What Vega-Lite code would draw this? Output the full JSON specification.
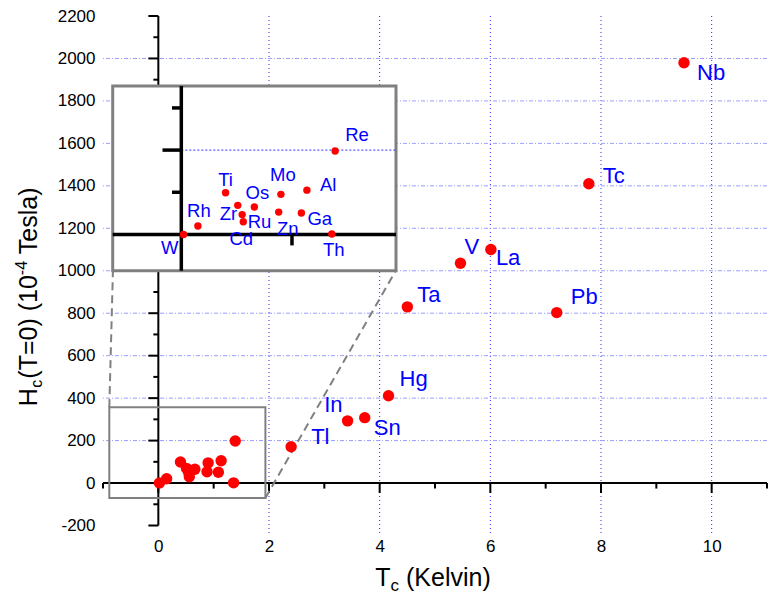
{
 "$schema": "https://vega.github.io/schema/vega-lite/v6.json",
 "width": 664, "height": 518,
 "autosize": "none",
 "padding": {"left": 103, "top": 16, "right": 7, "bottom": 64},
 "background": "white",
 "config": {"view": {"stroke": null}, "font": "Liberation Sans", "text": {"font": "Liberation Sans"}},
 "datasets": {
  "el": [
   {"el":"Nb","tc":9.5,"hc":1980},
   {"el":"Tc","tc":7.78,"hc":1410},
   {"el":"V","tc":5.46,"hc":1035},
   {"el":"La","tc":6.01,"hc":1100},
   {"el":"Ta","tc":4.5,"hc":830},
   {"el":"Pb","tc":7.2,"hc":803},
   {"el":"Hg","tc":4.16,"hc":411},
   {"el":"In","tc":3.42,"hc":293},
   {"el":"Sn","tc":3.73,"hc":308},
   {"el":"Tl","tc":2.4,"hc":171},
   {"el":"Re","tc":1.39,"hc":198},
   {"el":"Al","tc":1.135,"hc":105},
   {"el":"Mo","tc":0.9,"hc":95},
   {"el":"Ti","tc":0.4,"hc":99},
   {"el":"Os","tc":0.66,"hc":65},
   {"el":"Ru","tc":0.51,"hc":69},
   {"el":"Zr","tc":0.55,"hc":47},
   {"el":"Cd","tc":0.56,"hc":30},
   {"el":"Zn","tc":0.88,"hc":53},
   {"el":"Ga","tc":1.085,"hc":51},
   {"el":"Th","tc":1.36,"hc":1},
   {"el":"Rh","tc":0.15,"hc":20},
   {"el":"W","tc":0.02,"hc":0}
  ],
  "xgrid": [{"v":2},{"v":4},{"v":6},{"v":8},{"v":10}],
  "ygrid": [{"v":200},{"v":400},{"v":600},{"v":800},{"v":1000},{"v":1200},{"v":1400},{"v":1600},{"v":1800},{"v":2000}],
  "xmaj": [{"v":0},{"v":2},{"v":4},{"v":6},{"v":8},{"v":10}],
  "xmin": [{"v":-1},{"v":1},{"v":3},{"v":5},{"v":7},{"v":9},{"v":11}],
  "ymaj": [{"v":-200},{"v":0},{"v":200},{"v":400},{"v":600},{"v":800},{"v":1000},{"v":1200},{"v":1400},{"v":1600},{"v":1800},{"v":2000},{"v":2200}],
  "ymin": [{"v":-100},{"v":100},{"v":300},{"v":500},{"v":700},{"v":900},{"v":1100},{"v":1300},{"v":1500},{"v":1700},{"v":1900},{"v":2100}],
  "links": [{"x":-0.886,"y":357.6,"x2":-0.82,"y2":1004},{"x":1.935,"y":-70.6,"x2":4.3,"y2":1004}],
  "one": [{}]
 },
 "layer": [
  {"data":{"name":"xgrid"},"mark":{"type":"rule","color":"#2a2aff","strokeWidth":1,"strokeDash":[1,3]},
   "encoding":{
    "x":{"field":"v","type":"quantitative","scale":{"domain":[-1,11],"nice":false,"zero":false},"axis":null}}},
  {"data":{"name":"ygrid"},"mark":{"type":"rule","color":"#9c9cff","strokeWidth":1,"strokeDash":[4,2,1,2]},
   "encoding":{
    "y":{"field":"v","type":"quantitative","scale":{"domain":[-240,2200],"nice":false,"zero":false},"axis":null}}},
  {"data":{"name":"xmaj"},"mark":{"type":"rule","color":"black","strokeWidth":2},
   "encoding":{
    "x":{"field":"v","type":"quantitative","scale":{"domain":[-1,11],"nice":false,"zero":false},
      "axis":{"title":null,"orient":"bottom","values":[0,2,4,6,8,10],"labelExpr":"'' + datum.value","domain":false,"ticks":false,"grid":false,"labelFontSize":17,"labelColor":"black","labelPadding":4,"labelFont":"Liberation Sans"}},
    "y":{"datum":0,"type":"quantitative","scale":{"domain":[-240,2200],"nice":false,"zero":false},"axis":null},
    "y2":{"datum":-47}}},
  {"data":{"name":"ymaj"},"mark":{"type":"rule","color":"black","strokeWidth":2},
   "encoding":{
    "y":{"field":"v","type":"quantitative","scale":{"domain":[-240,2200],"nice":false,"zero":false},
      "axis":{"title":null,"orient":"left","values":[-200,0,200,400,600,800,1000,1200,1400,1600,1800,2000,2200],"labelExpr":"'' + datum.value","domain":false,"ticks":false,"grid":false,"labelFontSize":17,"labelColor":"black","labelPadding":8,"labelFont":"Liberation Sans"}},
    "x":{"datum":0,"type":"quantitative","scale":{"domain":[-1,11],"nice":false,"zero":false},"axis":null},
    "x2":{"datum":-0.18}}},
  {"data":{"name":"xmin"},"mark":{"type":"rule","color":"black","strokeWidth":2},
   "encoding":{
    "x":{"field":"v","type":"quantitative","scale":{"domain":[-1,11],"nice":false,"zero":false},"axis":null},
    "y":{"datum":0,"type":"quantitative","scale":{"domain":[-240,2200],"nice":false,"zero":false},"axis":null},
    "y2":{"datum":-26}}},
  {"data":{"name":"ymin"},"mark":{"type":"rule","color":"black","strokeWidth":2},
   "encoding":{
    "y":{"field":"v","type":"quantitative","scale":{"domain":[-240,2200],"nice":false,"zero":false},"axis":null},
    "x":{"datum":0,"type":"quantitative","scale":{"domain":[-1,11],"nice":false,"zero":false},"axis":null},
    "x2":{"datum":-0.09}}},
  {"data":{"name":"one"},"mark":{"type":"rule","color":"black","strokeWidth":2},
   "encoding":{
    "x":{"datum":0,"type":"quantitative","scale":{"domain":[-1,11],"nice":false,"zero":false},"axis":null},
    "y":{"datum":-200,"type":"quantitative","scale":{"domain":[-240,2200],"nice":false,"zero":false},"axis":null},
    "y2":{"datum":2200}}},
  {"data":{"name":"one"},"mark":{"type":"rule","color":"black","strokeWidth":2},
   "encoding":{
    "y":{"datum":0,"type":"quantitative","scale":{"domain":[-240,2200],"nice":false,"zero":false},"axis":null},
    "x":{"datum":-1,"type":"quantitative","scale":{"domain":[-1,11],"nice":false,"zero":false},"axis":null},
    "x2":{"datum":11}}},
  {"data":{"name":"one"},"mark":{"type":"rect","fill":"white","fillOpacity":0,"stroke":"#808080","strokeWidth":2},
   "encoding":{
    "x":{"datum":-0.886,"type":"quantitative","scale":{"domain":[-1,11],"nice":false,"zero":false},"axis":null},
    "x2":{"datum":1.935},
    "y":{"datum":-70.6,"type":"quantitative","scale":{"domain":[-240,2200],"nice":false,"zero":false},"axis":null},
    "y2":{"datum":357.6}}},
  {"data":{"name":"links"},"mark":{"type":"rule","color":"#808080","strokeWidth":2,"strokeDash":[8,5]},
   "encoding":{
    "x":{"field":"x","type":"quantitative","scale":{"domain":[-1,11],"nice":false,"zero":false},"axis":null},
    "x2":{"field":"x2"},
    "y":{"field":"y","type":"quantitative","scale":{"domain":[-240,2200],"nice":false,"zero":false},"axis":null},
    "y2":{"field":"y2"}}},
  {"data":{"name":"el"},"mark":{"type":"circle","color":"#ff0000","size":130,"opacity":1},
   "encoding":{
    "x":{"field":"tc","type":"quantitative","scale":{"domain":[-1,11],"nice":false,"zero":false},"axis":null},
    "y":{"field":"hc","type":"quantitative","scale":{"domain":[-240,2200],"nice":false,"zero":false},"axis":null}}},
  {"data":{"name":"el"},
   "encoding":{
    "x":{"field":"tc","type":"quantitative","scale":{"domain":[-1,11],"nice":false,"zero":false},"axis":null},
    "y":{"field":"hc","type":"quantitative","scale":{"domain":[-240,2200],"nice":false,"zero":false},"axis":null},
    "text":{"field":"el","type":"nominal"}},
   "layer":[
    {"transform":[{"filter":"datum.el=='Nb'"}],"mark":{"type":"text","align":"left","dx":13,"dy":10,"fontSize":22,"color":"#0000ff"}},
    {"transform":[{"filter":"datum.el=='Tc'"}],"mark":{"type":"text","align":"left","dx":14,"dy":-8,"fontSize":22,"color":"#0000ff"}},
    {"transform":[{"filter":"datum.el=='V'"}],"mark":{"type":"text","align":"left","dx":4,"dy":-16,"fontSize":22,"color":"#0000ff"}},
    {"transform":[{"filter":"datum.el=='La'"}],"mark":{"type":"text","align":"left","dx":5,"dy":8,"fontSize":22,"color":"#0000ff"}},
    {"transform":[{"filter":"datum.el=='Ta'"}],"mark":{"type":"text","align":"left","dx":10,"dy":-12,"fontSize":22,"color":"#0000ff"}},
    {"transform":[{"filter":"datum.el=='Pb'"}],"mark":{"type":"text","align":"left","dx":14,"dy":-16,"fontSize":22,"color":"#0000ff"}},
    {"transform":[{"filter":"datum.el=='Hg'"}],"mark":{"type":"text","align":"left","dx":11,"dy":-17,"fontSize":22,"color":"#0000ff"}},
    {"transform":[{"filter":"datum.el=='In'"}],"mark":{"type":"text","align":"right","dx":-5,"dy":-16,"fontSize":22,"color":"#0000ff"}},
    {"transform":[{"filter":"datum.el=='Sn'"}],"mark":{"type":"text","align":"left","dx":9,"dy":10,"fontSize":22,"color":"#0000ff"}},
    {"transform":[{"filter":"datum.el=='Tl'"}],"mark":{"type":"text","align":"left","dx":20,"dy":-10,"fontSize":22,"color":"#0000ff"}}
   ]},
  {"data":{"name":"one"},
   "encoding":{
    "x":{"datum":3.92,"type":"quantitative","scale":{"domain":[-1,11],"nice":false,"zero":false},"axis":null},
    "y":{"datum":-485,"type":"quantitative","scale":{"domain":[-240,2200],"nice":false,"zero":false},"axis":null}},
   "layer":[
    {"mark":{"type":"text","text":"T","align":"left","baseline":"alphabetic","fontSize":25,"color":"black"}},
    {"mark":{"type":"text","text":"c","align":"left","baseline":"alphabetic","fontSize":17,"dx":15.3,"dy":5,"color":"black"}},
    {"mark":{"type":"text","text":"(Kelvin)","align":"left","baseline":"alphabetic","fontSize":25,"dx":30.8,"color":"black"}}
   ]},
  {"data":{"name":"one"},
   "encoding":{
    "x":{"datum":-2.19,"type":"quantitative","scale":{"domain":[-1,11],"nice":false,"zero":false},"axis":null},
    "y":{"datum":362,"type":"quantitative","scale":{"domain":[-240,2200],"nice":false,"zero":false},"axis":null}},
   "layer":[
    {"mark":{"type":"text","text":"H","angle":270,"align":"left","baseline":"alphabetic","fontSize":25,"color":"black"}},
    {"mark":{"type":"text","text":"c","angle":270,"align":"left","baseline":"alphabetic","fontSize":16,"dx":18.5,"dy":5,"color":"black"}},
    {"mark":{"type":"text","text":"(T=0) (10","angle":270,"align":"left","baseline":"alphabetic","fontSize":25,"dx":27.5,"color":"black"}},
    {"mark":{"type":"text","text":"-4","angle":270,"align":"left","baseline":"alphabetic","fontSize":16,"dx":131,"dy":-10,"color":"black"}},
    {"mark":{"type":"text","text":"Tesla)","angle":270,"align":"left","baseline":"alphabetic","fontSize":25,"dx":152,"color":"black"}}
   ]},
  {"data":{"name":"one"},"mark":{"type":"rect","fill":"white","stroke":"#808080","strokeWidth":3},
   "encoding":{
    "x":{"datum":-0.62,"type":"quantitative","scale":{"domain":[-0.62,1.94],"range":[9.7,293],"nice":false,"zero":false},"axis":null},
    "x2":{"datum":1.94},
    "y":{"datum":-86,"type":"quantitative","scale":{"domain":[-86,352],"range":[254.7,70],"nice":false,"zero":false},"axis":null},
    "y2":{"datum":352}}},
  {"data":{"name":"one"},"mark":{"type":"rule","color":"#3030ff","strokeWidth":1,"strokeDash":[2,2]},
   "encoding":{
    "x":{"datum":0,"type":"quantitative","scale":{"domain":[-0.62,1.94],"range":[9.7,293],"nice":false,"zero":false},"axis":null},
    "x2":{"datum":1.94},
    "y":{"datum":200,"type":"quantitative","scale":{"domain":[-86,352],"range":[254.7,70],"nice":false,"zero":false},"axis":null}}},
  {"data":{"name":"one"},"mark":{"type":"rule","color":"black","strokeWidth":3.5},
   "encoding":{
    "x":{"datum":-0.62,"type":"quantitative","scale":{"domain":[-0.62,1.94],"range":[9.7,293],"nice":false,"zero":false},"axis":null},
    "x2":{"datum":1.94},
    "y":{"datum":0,"type":"quantitative","scale":{"domain":[-86,352],"range":[254.7,70],"nice":false,"zero":false},"axis":null}}},
  {"data":{"name":"one"},"mark":{"type":"rule","color":"black","strokeWidth":3.5},
   "encoding":{
    "x":{"datum":0,"type":"quantitative","scale":{"domain":[-0.62,1.94],"range":[9.7,293],"nice":false,"zero":false},"axis":null},
    "y":{"datum":-86,"type":"quantitative","scale":{"domain":[-86,352],"range":[254.7,70],"nice":false,"zero":false},"axis":null},
    "y2":{"datum":352}}},
  {"data":{"values":[{"v":100},{"v":300}]},"mark":{"type":"rule","color":"black","strokeWidth":3.5},
   "encoding":{
    "y":{"field":"v","type":"quantitative","scale":{"domain":[-86,352],"range":[254.7,70],"nice":false,"zero":false},"axis":null},
    "x":{"datum":0,"type":"quantitative","scale":{"domain":[-0.62,1.94],"range":[9.7,293],"nice":false,"zero":false},"axis":null},
    "x2":{"datum":-0.084}}},
  {"data":{"values":[{"v":200}]},"mark":{"type":"rule","color":"black","strokeWidth":3.5},
   "encoding":{
    "y":{"field":"v","type":"quantitative","scale":{"domain":[-86,352],"range":[254.7,70],"nice":false,"zero":false},"axis":null},
    "x":{"datum":0,"type":"quantitative","scale":{"domain":[-0.62,1.94],"range":[9.7,293],"nice":false,"zero":false},"axis":null},
    "x2":{"datum":-0.17}}},
  {"data":{"values":[{"v":1}]},"mark":{"type":"rule","color":"black","strokeWidth":3.5},
   "encoding":{
    "x":{"field":"v","type":"quantitative","scale":{"domain":[-0.62,1.94],"range":[9.7,293],"nice":false,"zero":false},"axis":null},
    "y":{"datum":0,"type":"quantitative","scale":{"domain":[-86,352],"range":[254.7,70],"nice":false,"zero":false},"axis":null},
    "y2":{"datum":-26}}},
  {"data":{"name":"el"},"transform":[{"filter":"datum.tc < 2"}],"mark":{"type":"circle","color":"#ff0000","size":55,"opacity":1},
   "encoding":{
    "x":{"field":"tc","type":"quantitative","scale":{"domain":[-0.62,1.94],"range":[9.7,293],"nice":false,"zero":false},"axis":null},
    "y":{"field":"hc","type":"quantitative","scale":{"domain":[-86,352],"range":[254.7,70],"nice":false,"zero":false},"axis":null}}},
  {"data":{"name":"el"},
   "encoding":{
    "x":{"field":"tc","type":"quantitative","scale":{"domain":[-0.62,1.94],"range":[9.7,293],"nice":false,"zero":false},"axis":null},
    "y":{"field":"hc","type":"quantitative","scale":{"domain":[-86,352],"range":[254.7,70],"nice":false,"zero":false},"axis":null},
    "text":{"field":"el","type":"nominal"}},
   "layer":[
    {"transform":[{"filter":"datum.el=='Re'"}],"mark":{"type":"text","align":"left","dx":10,"dy":-16,"fontSize":18.5,"color":"#0000ff"}},
    {"transform":[{"filter":"datum.el=='Al'"}],"mark":{"type":"text","align":"left","dx":13,"dy":-5,"fontSize":18.5,"color":"#0000ff"}},
    {"transform":[{"filter":"datum.el=='Mo'"}],"mark":{"type":"text","align":"center","dx":2,"dy":-19,"fontSize":18.5,"color":"#0000ff"}},
    {"transform":[{"filter":"datum.el=='Ti'"}],"mark":{"type":"text","align":"center","dx":0,"dy":-13,"fontSize":18.5,"color":"#0000ff"}},
    {"transform":[{"filter":"datum.el=='Os'"}],"mark":{"type":"text","align":"center","dx":3,"dy":-14,"fontSize":18.5,"color":"#0000ff"}},
    {"transform":[{"filter":"datum.el=='Rh'"}],"mark":{"type":"text","align":"center","dx":1,"dy":-15,"fontSize":18.5,"color":"#0000ff"}},
    {"transform":[{"filter":"datum.el=='Zr'"}],"mark":{"type":"text","align":"right","dx":-5,"dy":-1,"fontSize":18.5,"color":"#0000ff"}},
    {"transform":[{"filter":"datum.el=='Ru'"}],"mark":{"type":"text","align":"left","dx":10,"dy":17,"fontSize":18.5,"color":"#0000ff"}},
    {"transform":[{"filter":"datum.el=='Cd'"}],"mark":{"type":"text","align":"center","dx":-2,"dy":17,"fontSize":18.5,"color":"#0000ff"}},
    {"transform":[{"filter":"datum.el=='Zn'"}],"mark":{"type":"text","align":"center","dx":9,"dy":17,"fontSize":18.5,"color":"#0000ff"}},
    {"transform":[{"filter":"datum.el=='Ga'"}],"mark":{"type":"text","align":"left","dx":6,"dy":6,"fontSize":18.5,"color":"#0000ff"}},
    {"transform":[{"filter":"datum.el=='Th'"}],"mark":{"type":"text","align":"center","dx":2,"dy":16,"fontSize":18.5,"color":"#0000ff"}},
    {"transform":[{"filter":"datum.el=='W'"}],"mark":{"type":"text","align":"right","dx":-5,"dy":14,"fontSize":18.5,"color":"#0000ff"}}
   ]}
 ],
 "resolve": {"scale": {"x": "independent", "y": "independent"}}
}
